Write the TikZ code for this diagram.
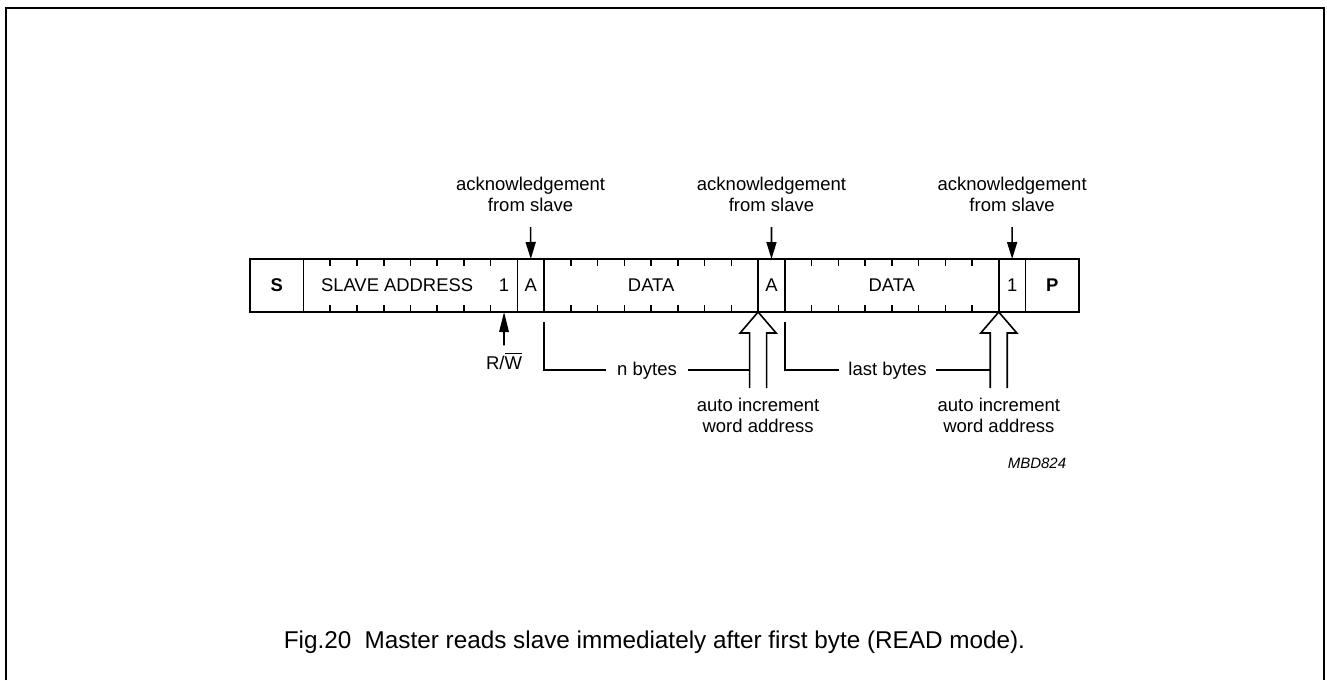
\documentclass[tikz,border=0pt]{standalone}
\usepackage{fontspec}
\setmainfont{Liberation Sans}
\usetikzlibrary{arrows.meta}

\tikzset{
  lbl/.style={font=\fontsize{9.25}{10.5}\selectfont, align=center, inner sep=0pt},
  fld/.style={font=\fontsize{9.2}{11}\selectfont, inner sep=0pt},
  ack/.style={-{Triangle[length=8.5pt,width=5pt]}},
}

\begin{document}
\begin{tikzpicture}[x=0.5pt,y=-0.5pt, line width=0.8pt]
  % set up the page and the frame
  \useasboundingbox (0,0) rectangle (1327,680);
  \draw[line width=1pt] (5.5,680) -- (5.5,8) -- (1324,8) -- (1324,680);
  % draw the byte row
  \begin{scope}[shift={(250,259)}, x=13.371pt]
    \draw (0,0) rectangle (31,53);
    \foreach \i in {2,10,11,19,20,28,29}
      \draw (\i,0) -- (\i,53);
    \foreach \s in {2,11,20}
      \foreach \k in {1,...,7} {
        \draw (\s+\k,0) -- ++(0,7);
        \draw (\s+\k,53) -- ++(0,-7);
      }
    \node[fld, font=\fontsize{9.2}{11}\selectfont\bfseries] (S) at (1,26.5) {S};
    \node[fld] (addr) at (5.5,26.5) {SLAVE ADDRESS};
    \node[fld] (rwbit) at (9.5,26.5) {1};
    \node[fld] (ackbitA) at (10.5,26.5) {A};
    \node[fld] (dataA) at (15,26.5) {DATA};
    \node[fld] (ackbitB) at (19.5,26.5) {A};
    \node[fld] (dataB) at (24,26.5) {DATA};
    \node[fld] (nack) at (28.5,26.5) {1};
    \node[fld, font=\fontsize{9.2}{11}\selectfont\bfseries] (P) at (30,26.5) {P};
    % coordinates for the arrows
    \coordinate (ackA) at (10.5,0);
    \coordinate (ackB) at (19.5,0);
    \coordinate (ackC) at (28.5,0);
    \coordinate (rw) at (9.5,53);
    \coordinate (incA) at (19,53);
    \coordinate (incB) at (28,53);
    \coordinate (nA) at (11,63);
    \coordinate (lastA) at (20,63);
  \end{scope}
  % acknowledgement arrows
  \node[lbl, anchor=south] (ackAtxt) at (530.6,212) {acknowledgement\\from slave};
  \node[lbl, anchor=south] (ackBtxt) at (771.5,212) {acknowledgement\\from slave};
  \node[lbl, anchor=south] (ackCtxt) at (1012.1,212) {acknowledgement\\from slave};
  \draw[ack] ([yshift=-7.5pt]ackAtxt.south) -- (ackA);
  \draw[ack] ([yshift=-7.5pt]ackBtxt.south) -- (ackB);
  \draw[ack] ([yshift=-7.5pt]ackCtxt.south) -- (ackC);
  % read/write bit
  \node[lbl, anchor=base] (rwtxt) at (504,369) {R/$\overline{\hbox{W}}$};
  \draw[-{Triangle[length=10pt,width=4.75pt]}] ([yshift=3pt]rwtxt.north) -- (rw);
  % hollow arrows for auto increment
  \foreach \c in {incA,incB}
    \draw[line join=miter] (\c) ++(-8.5,76) coordinate (\c-left) -- ++(0,-55) -- ++(-9.5,0)
      -- (\c) -- ++(18,21) -- ++(-9.5,0) -- ++(0,55);
  \node[lbl, anchor=south] (incAtxt) at (758.1,433) {auto increment\\word address};
  \node[lbl, anchor=south] (incBtxt) at (998.8,433) {auto increment\\word address};
  % byte count brackets
  \node[lbl, anchor=mid, inner xsep=5pt] (nbytes) at (647,370) {n bytes};
  \draw (nA) |- (nbytes.mid west);
  \draw (nbytes.mid east) -- (nbytes.mid east -| incA-left);
  \node[lbl, anchor=mid, inner xsep=4.5pt] (lastbytes) at (887.5,370) {last bytes};
  \draw (lastA) |- (lastbytes.mid west);
  \draw (lastbytes.mid east) -- (lastbytes.mid east -| incB-left);
  % figure code and caption
  \node[font=\fontsize{7.5}{9}\selectfont\itshape, anchor=base west, inner sep=0pt] (code) at (1007,468) {MBD824};
  \node[font=\fontsize{12.15}{14}\selectfont, anchor=base west, inner sep=0pt] (caption) at (283,648)
    {Fig.20\hspace{0.55em}Master reads slave immediately after first byte (READ mode).};
\end{tikzpicture}
\end{document}
